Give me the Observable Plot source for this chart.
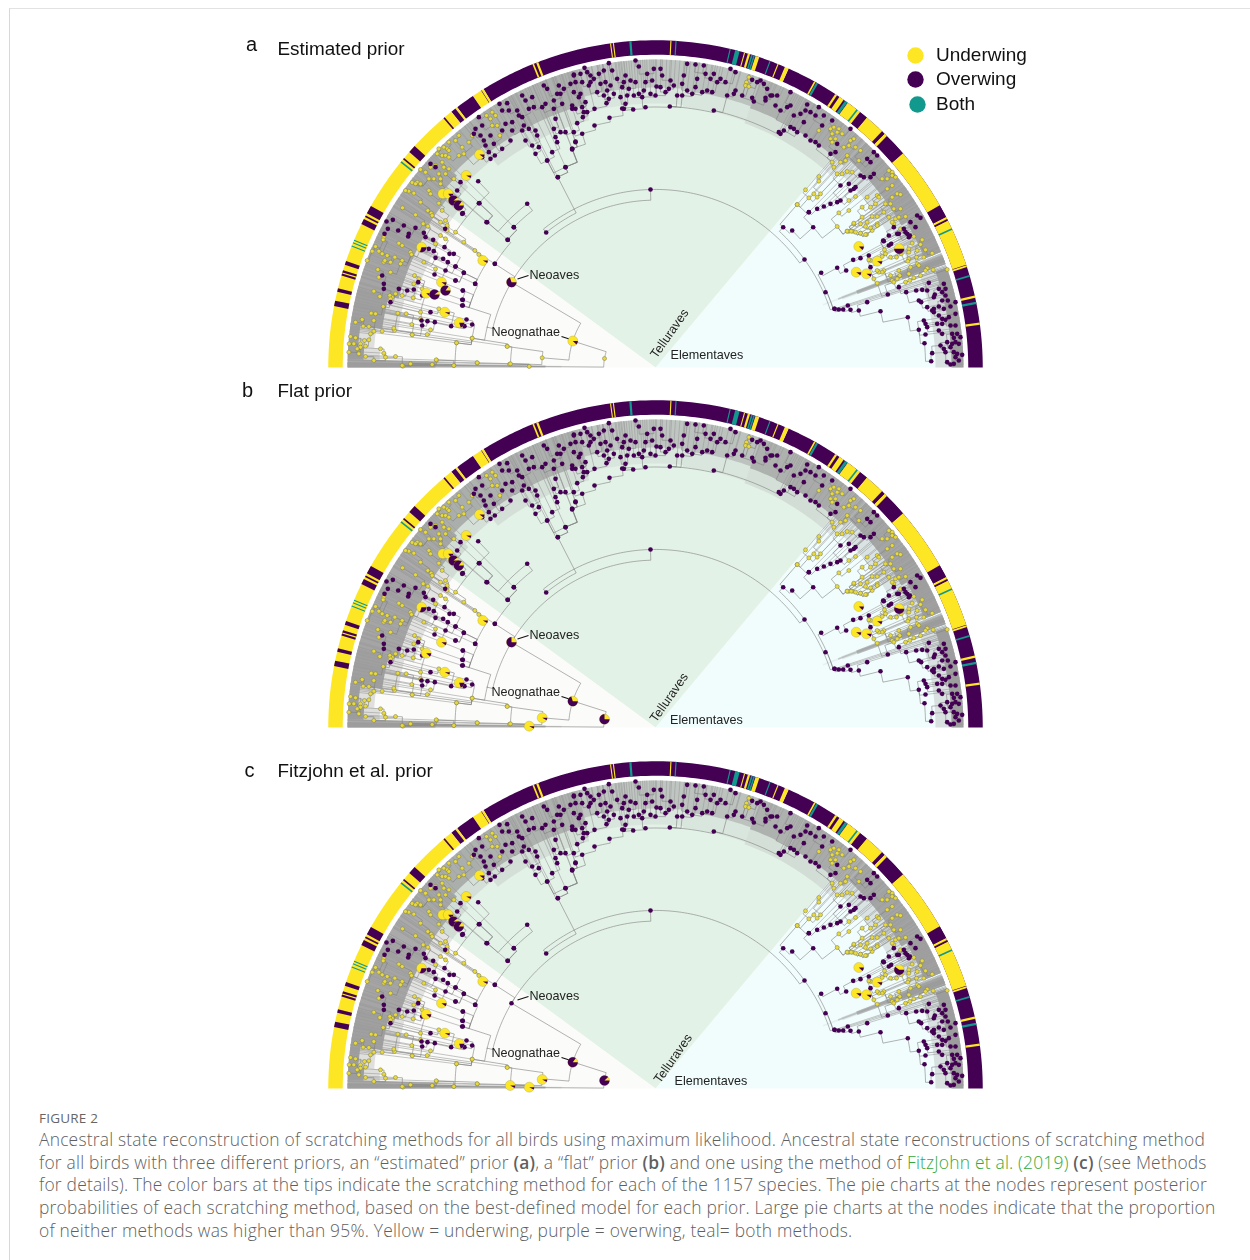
<!DOCTYPE html>
<html><head><meta charset="utf-8">
<script src="https://cdn.jsdelivr.net/npm/d3@7"></script>
<script src="https://cdn.jsdelivr.net/npm/@observablehq/plot@0.6"></script>
<style>
html,body{margin:0;background:#fff}
#frame{position:absolute;left:9px;top:8px;right:0;height:1252px;border-left:1px solid #d8d8d8;border-top:1px solid #e2e2e2}
#chart{position:absolute;left:0;top:0}
#chart svg{display:block;background:transparent;filter:blur(.35px)}
#cap{position:absolute;left:39px;top:1108px;width:1205px;font-family:"Open Sans",sans-serif;color:#5f5f5f;font-weight:300}
#cap .h{font-size:13.5px;line-height:20px;font-weight:400;color:#666;letter-spacing:.2px}
#cap .l{font-size:17.4px;line-height:22.7px;white-space:nowrap;letter-spacing:.215px}
#cap b{font-weight:600}
#cap a{color:#34a83a;text-decoration:none}
</style></head><body>
<div id="frame"></div><div id="chart"></div>
<div id="cap"><div class="h">FIGURE 2</div>
<div class="l">Ancestral state reconstruction of scratching methods for all birds using maximum likelihood. Ancestral state reconstructions of scratching method</div>
<div class="l">for all birds with three different priors, an “estimated” prior <b>(a)</b>, a “flat” prior <b>(b)</b> and one using the method of <a>FitzJohn et al. (2019)</a> <b>(c)</b> (see Methods</div>
<div class="l">for details). The color bars at the tips indicate the scratching method for each of the 1157 species. The pie charts at the nodes represent posterior</div>
<div class="l">probabilities of each scratching method, based on the best-defined model for each prior. Large pie charts at the nodes indicate that the proportion</div>
<div class="l">of neither methods was higher than 95%. Yellow = underwing, purple = overwing, teal= both methods.</div>
</div>
<script>
// ---------- categories and labels ----------
const methods = ["Underwing","Overwing","Both"];
const panelLetters = ["a","b","c"];
const panelTitles = ["Estimated prior","Flat prior","Fitzjohn et al. prior"];
const panelDrop = [0,360,721];                 // vertical offset of each semicircle in tree units

// ---------- colour bar at the tips: [start angle, end angle, method] (U/O/B, degrees from the right) ----------
const tipBar = [
[0,54,"O"],[54,66,"O"],[66,66.7,"U"],[66.7,121.7,"O"],[121.7,122.1,"U"],[122.1,122.3,"O"],[122.2,123.9,"U"],[123.9,127.3,"O"],[127.3,127.7,"U"],[127.7,128.6,"O"],
[128.6,180,"U"],[18.3,26.7,"U"],[26.7,27,"O"],[27,27.4,"U"],[27.4,29.7,"O"],[29.7,40.9,"U"],[40.9,45,"O"],[45,45.6,"U"],[45.6,46.2,"O"],[46.2,49.8,"U"],[49.8,51.3,"O"],[51.3,54,"U"],
[54.9,55.8,"U"],[54.1,54.6,"B"],[56.3,56.7,"U"],[60.2,60.6,"B"],[60.7,61,"U"],[51.8,52.1,"B"],[24.9,25.2,"B"],[17.9,18.2,"U"],[16.1,16.4,"B"],[12.3,12.7,"U"],[11.2,11.6,"B"],[7.5,7.9,"U"],
[67.9,68.1,"U"],[69.4,69.6,"B"],[71.5,72.2,"U"],[72.3,72.6,"B"],[72.7,73,"B"],[73.2,73.6,"U"],[74.1,74.3,"U"],[75.1,75.9,"B"],[76.7,76.9,"B"],
[86.3,86.5,"B"],[87.2,87.4,"U"],[94.2,94.6,"B"],[97.3,97.5,"U"],[97.8,98,"U"],[111,111.4,"U"],[111.8,112.1,"U"],
[130.1,130.4,"O"],[137.4,138.8,"O"],[140.2,140.5,"O"],[140.9,141.2,"B"],[150.4,151.9,"O"],[152.3,152.6,"O"],[153,154,"O"],
[157,157.2,"B"],[157.5,157.7,"B"],[158.1,158.3,"B"],[161,161.7,"O"],[162.7,163.7,"O"],[163.1,163.3,"U"],[166,166.6,"O"],[168.2,169.2,"O"]];

// ---------- dense tip lines: [start angle, end angle, innermost radius, density] ----------
const tipFans = [
[0,19,296,.95],[19.6,21.4,262,.8],[20,21,215,.6],[20.3,20.8,195,.45],[22,30,290,.9],[30,47,284,.85],[47,52,276,.7],[52,61,276,.75],[61,70,276,.65],[70,84,278,.45],[84,105,280,.42],
[105,128,272,.65],[128,136,280,.7],[136,141,276,.8],[141,150,268,.78],[150,165,266,.85],[165,172,276,.92],[172,176,298,.95],[176,178.5,292,.95],[178.5,180,220,.8],[179,180,110,.6]];

// ---------- major clade shading: [start angle, end angle, clade] ----------
const cladeWedges = [[0,50,"Elementaves"],[50,143.7,"Telluraves"],[143.7,180,"Other"]];

// ---------- backbone of the tree: [node, parent, layout x, layout y, state] ----------
const backbone = [
["root",null,604,358,"U"],["neog","root",572.3,340.5,"U"],["gallo","neog",541.7,357.3,"U"],["g1","gallo",506.7,346,"U"],["g2","gallo",510,363.3,"U"],
["g3","g1",471.7,337.7,"U"],["g4","g3",456,342.3,"U"],["g5","g3",411.7,334.3,"U"],["pal","root",528.7,366,"U"],["p1","pal",476.7,362.3,"U"],["p2","pal",453.3,365,"U"],
["p3","p1",435.7,359.3,"U"],["p4","p2",410,363.3,"U"],["p5","p2",401.7,365,"U"],
["neo","neog",511,281.7,"O"],["l1","neo",486.7,326.7,""],["l2","l1",468.5,307,""],["l3","l2",474.7,283.3,"O"],["l4","l3",482.3,260,"U"],["l5","l3",463.3,272.3,"O"],
["l6","l2",462.3,305,"O"],["l7","l2",461.7,299.3,"O"],["l8","l2",462.3,290,"O"],["l9","l5",455,280,"O"],["l10","l5",455,266,"O"],
["q","neo",494.3,263.3,"O"],["q1","q",507,239.3,"O"],["q2","q1",513.3,226.7,"O"],["q3","q2",526.7,203.3,"O"],["s","q3",486.7,221.7,"O"],["s1","s",478.3,202.7,"O"],["s2","s1",477.7,180.7,"O"],
["c","neo",650,189,"O"],["d","c",545.7,232,"O"],["t1","d",557.3,176.7,"O"],["t2","t1",565,166.7,"O"],["t3","t1",546.7,160,"O"],["t4","t2",571.7,148.3,"O"],["t5","t4",581.7,133.3,"O"],
["t6","t5",594,125,"O"],["t7","t6",609,117.3,"O"],["t8","t7",621.7,108,"O"],["t9","t8",632.7,109,"O"],["t10","t9",645,106.7,"O"],["t11","t10",669.3,106,"O"],["t12","t11",713.3,110,"O"],["t13","t12",780,133.3,""],
["e","c",804,259,"O"],["e1","e",782.7,226.7,"O"],["e2","e1",796.7,204,"U"],["e3","e1",791.7,230,"O"],["e4","e3",812.7,226.7,"O"],["e5","e4",808.3,211.7,"O"],["e6","e4",836.7,226,"U"],
["f","e",832.7,308.3,""],["f1","f",820.7,272.3,"O"],["f2","f1",836.7,267.3,"O"],["f3","f2",845.7,270,"O"],["f4","f",825,291.7,"O"],["f5","f",834,308.3,"O"],["f6","f5",842.7,309,"O"],
["f7","f6",850,309.3,"O"],["f8","f7",858.3,310,"O"],["f9","f8",880,310.7,"O"],["f10","f9",907.3,316.7,"O"],["f11","f10",918.3,329.3,"O"],["f12","f11",924,342.7,"O"],["f13","f12",930.7,360.7,"O"]];

// ---------- node states read clade by clade, in thirds of a unit from the clade's corner ----------
const lowerLeftCorner = [340,180];
const lowerLeftU = [[30,468],[45,472],[26,490],[40,490],[60,490],[72,480],[90,460],[85,478],[60,500],[75,497],[25,515],[50,505],[55,520],[75,528],[100,540],[120,505],[130,518],[135,530],[165,528],[187,557],[210,550],[275,552],[288,539],[340,555],[410,547],[507,551],[500,497],[395,473],[348,487],[215,462],[260,462],[270,448],[162,450],[160,443],[125,452],[100,452],[68,437],[45,425],[65,417],[100,420],[85,438],[105,400],[92,398],[128,378],[118,348],[100,332],[155,350],[185,345],[218,352],[172,398],[197,400],[240,395],[295,385],[214,432],[240,415],[148,345],[115,290],[150,275],[130,245],[112,267],[80,240],[95,212],[105,198],[115,212],[125,220],[130,170],[128,178],[175,188],[185,195],[210,215],[213,222],[185,240],[180,250],[250,245],[285,265],[222,285],[235,295],[245,325],[220,310],[163,230],[150,245],[133,240],[140,225],[186,82],[225,103],[240,65],[220,38],[205,32],[195,30],[215,6],[240,12],[265,30],[270,40],[262,90],[272,98],[248,130],[262,137],[275,105],[300,125],[315,120],[320,135],[320,150],[295,68],[305,90],[305,30],[305,45],[300,10],[345,155],[370,185],[403,210],[415,222],[315,175],[300,165],[285,190],[165,340],[150,355]];
const lowerLeftO = [[138,123],[157,118],[142,145],[132,160],[173,150],[190,135],[225,142],[205,160],[203,168],[250,157],[255,170],[278,178],[314,145],[265,205],[280,212],[312,200],[327,220],[340,220],[322,245],[308,235],[285,232],[345,258],[370,277],[345,300],[367,330],[367,358],[365,375],[404,310],[463,250],[438,125],[417,68],[520,140],[502,178],[367,98],[125,285],[130,310],[130,325],[175,325],[200,330],[150,365],[233,305],[245,345],[220,327],[283,425],[243,420],[245,435],[261,422],[270,395],[332,437],[378,417],[395,432],[372,437],[240,208],[315,270],[282,282]];
const upperLeftCorner = [400,60];
const upperLeftU = [[275,155],[285,165],[270,175],[258,165],[290,195],[275,195],[298,225],[205,245],[185,260],[175,285],[190,280],[215,225],[175,225],[165,240],[145,245],[140,265],[130,260],[115,265],[110,280],[125,285],[135,285],[145,270],[145,290],[125,305],[130,320],[105,315],[90,320],[115,340],[120,355],[145,325],[160,355],[135,340],[60,327],[75,335],[50,365],[60,370],[85,355],[100,355],[45,370]];
const upperLeftO = [[235,170],[245,195],[225,205],[220,220],[240,225],[250,240],[270,225],[255,255],[265,275],[245,290],[270,295],[283,285],[305,265],[280,250],[297,130],[320,128],[325,150],[305,150],[350,150],[355,165],[365,170],[315,190],[335,185],[305,210],[335,210],[330,240],[365,210],[370,195],[385,205],[375,240],[405,210],[410,225],[395,255],[415,260],[405,280],[365,105],[375,120],[395,110],[400,140],[385,145],[430,75],[440,85],[475,75],[510,70],[520,45],[490,85],[480,100],[470,100],[425,140],[435,130],[460,120],[460,145],[485,130],[515,135],[465,175],[460,205],[480,215],[495,215],[520,215],[465,230],[525,245],[515,265],[470,245],[455,275],[440,300],[495,320],[472,350],[180,365],[170,390],[90,310],[105,320],[150,410],[165,420],[185,460]];
const topCorner = [570,40];
const topO = [[42,82],[10,102],[30,100],[50,95],[60,105],[15,125],[35,125],[60,125],[85,100],[100,90],[115,68],[125,90],[140,115],[160,125],[165,105],[195,60],[205,78],[250,85],[270,85],[275,105],[230,100],[225,125],[245,120],[195,125],[180,120],[175,145],[155,140],[120,135],[110,150],[105,125],[90,130],[80,155],[100,165],[115,175],[108,188],[150,170],[170,165],[165,190],[160,205],[190,165],[205,160],[215,170],[240,160],[255,165],[270,140],[285,155],[300,120],[295,145],[320,165],[335,165],[350,150],[335,130],[340,105],[350,70],[375,72],[400,75],[405,100],[380,115],[365,160],[395,155],[410,150],[425,155],[440,125],[430,100],[450,115],[465,125],[480,85],[495,95],[470,165],[490,160],[515,165],[545,172],[550,183],[580,130],[590,145],[560,125],[570,120],[585,172],[600,165],[545,118],[495,150],[10,155],[25,170],[45,185],[35,200],[40,215],[5,205],[15,205],[50,215],[72,205],[37,230],[20,248],[15,303],[5,327],[30,160],[55,135],[70,115],[220,150],[258,138],[310,135],[375,140],[420,115],[130,160]];
const topU = [[535,110],[528,125],[525,135],[535,138]];
const upperRightCorner = [760,90];
const upperRightO = [[15,30],[35,15],[50,15],[45,45],[60,60],[90,5],[80,50],[90,45],[140,42],[175,50],[120,70],[135,60],[150,65],[100,75],[130,95],[165,75],[190,75],[215,90],[90,110],[100,115],[110,125],[55,125],[70,120],[60,130],[185,105],[135,135],[150,150],[165,155],[175,165],[230,160],[225,185],[210,190],[270,115],[340,185],[350,195],[320,205],[330,215],[340,250],[330,260],[300,255],[310,260],[280,295],[270,300],[265,280],[285,290],[240,285],[230,335],[240,330],[210,340],[190,348],[170,355],[145,365],[470,375],[480,382],[450,395],[465,410],[400,410],[430,415],[440,430],[415,430],[368,450],[385,465],[445,440]];
const upperRightU = [[210,115],[220,110],[235,115],[215,130],[230,125],[245,130],[210,145],[225,145],[215,155],[175,120],[270,150],[280,145],[265,165],[250,170],[285,170],[300,180],[260,195],[240,215],[255,210],[220,230],[215,215],[230,250],[245,250],[260,243],[275,245],[295,210],[175,258],[175,272],[135,298],[145,322],[160,310],[170,320],[180,310],[110,342],[265,330],[285,318],[320,320],[350,315],[355,320],[380,295],[395,285],[410,310],[420,312],[395,320],[305,350],[265,360],[235,367],[330,350],[345,340],[375,340],[390,340],[400,355],[420,355],[370,365],[350,378],[385,380],[405,385],[415,380],[335,378],[320,395],[305,380],[280,400],[300,400],[260,422],[275,422],[300,428],[318,432],[335,420],[350,400],[395,245],[385,240],[395,255],[405,260],[380,265],[365,265],[435,378]];
const lowerRightCorner = [810,220];
const lowerRightU = [[130,8],[110,32],[122,32],[135,35],[150,38],[165,42],[180,22],[165,18],[200,15],[250,10],[270,25],[245,5],[310,48],[335,58],[330,72],[305,68],[295,85],[295,95],[320,90],[345,88],[365,98],[340,110],[318,110],[295,115],[292,122],[320,130],[325,135],[350,143],[345,150],[368,148],[410,147],[300,140],[295,160],[265,150],[268,165],[260,175],[240,165],[245,180],[250,185],[285,185],[298,180],[310,172],[330,165],[220,150],[215,155],[205,155],[200,150],[190,175],[200,188],[180,120],[175,118],[222,88],[225,100],[215,108],[240,110],[258,110],[272,100]];
const lowerRightO = [[235,45],[220,62],[242,70],[260,40],[285,35],[298,45],[128,118],[150,113],[175,105],[180,140],[232,222],[265,200],[287,215],[317,210],[355,187],[335,208],[350,210],[385,205],[400,190],[405,205],[395,215],[373,222],[405,225],[325,240],[332,245],[370,230],[395,240],[412,240],[435,245],[350,260],[370,265],[385,258],[400,265],[420,258],[365,270],[370,275],[385,285],[415,290],[435,280],[395,295],[405,298],[380,310],[340,300],[345,310],[350,320],[395,310],[420,315],[435,315],[345,342],[385,330],[395,340],[425,340],[440,340],[430,352],[450,350],[410,365],[425,370],[435,365],[445,370],[390,375],[400,385],[420,380],[430,395],[405,395],[440,400],[455,403],[365,398],[410,425],[420,432],[430,430],[445,420],[435,410],[72,265],[85,267],[112,255],[170,245]];

// ---------- posterior pies at nodes: [layout x, layout y, overwing share] ----------
const sharedPies = [[482.3,260,.08],[441,281.7,.1],[425.7,292.7,.12],[444.3,311.7,.08],[458.7,322.3,.2],[421,246.7,.3],
[479,154,.1],[465.7,175,.08],[442.3,193.3,.05],[447.7,193.3,.15],[453,200,.9],[458.3,205,.85],
[858.3,246,.12],[876.7,260.7,.1],[855.7,271.7,.1],[866,273.3,.1]];
const estimatedPies = [[445,290,.85],[434,294,.9],[511,281.7,.7],[572.3,340.5,.12],[898.7,248.3,.5]];
const flatPies = [[511,281.7,.75],[572.3,340.7,.7],[604,358.7,.75],[541.7,357.3,.08],[528.7,365.7,.08],[898.7,248.3,.55]];
const fitzjohnPies = [[572.3,340.7,.85],[604,359,.88],[541.7,358,.08],[528.7,365.7,.08],[509.7,364,.08],[898.7,248.3,.6]];

// ---------- colours and geometry ----------
const C = {U:"#fde725",O:"#440154",B:"#12998e"};
const CLADE = {Elementaves:"#f1fdfd",Telluraves:"#e3f2e7",Other:"#fbfbf9"};
const CX=655, CY=367, R_TIP=308, R_BAR=320;
const pol=(a,r)=>({x:CX+r*Math.cos(a*Math.PI/180), y:CY-r*Math.sin(a*Math.PI/180)});
const toPol=(x,y)=>({a:(Math.atan2(CY-y,x-CX)*180/Math.PI+360)%360, r:Math.hypot(x-CX,y-CY)});
const arcPts=(a0,a1,r)=>{const n=Math.max(1,Math.ceil(Math.abs(a1-a0)));return d3.range(n+1).map(i=>pol(a0+(a1-a0)*i/n,r));};
const sector=(a0,a1,r0,r1)=>[...arcPts(a0,a1,r1),...arcPts(a1,a0,r0)];

const readCrop=(corner,pts,state)=>pts.map(([u,v])=>({x:corner[0]+u/3,y:corner[1]+v/3,state}));
const looseNodes=[
 ...readCrop(lowerLeftCorner,lowerLeftU,"U"),...readCrop(lowerLeftCorner,lowerLeftO,"O"),
 ...readCrop(upperLeftCorner,upperLeftU,"U"),...readCrop(upperLeftCorner,upperLeftO,"O"),
 ...readCrop(topCorner,topO,"O"),...readCrop(topCorner,topU,"U"),
 ...readCrop(upperRightCorner,upperRightO,"O"),...readCrop(upperRightCorner,upperRightU,"U"),
 ...readCrop(lowerRightCorner,lowerRightU,"U"),...readCrop(lowerRightCorner,lowerRightO,"O")
].map(d=>({...d,...toPol(d.x,d.y)}));
const backNodes=new Map(backbone.map(([id,p,x,y,state])=>[id,{id,p,x,y,state,...toPol(x,y)}]));

// branch = arc along the parent's radius, then radial out to the child
const branchPts=(par,ch)=>[...arcPts(par.a,ch.a,par.r),pol(ch.a,ch.r)];
const branches=[];
for(const n of backNodes.values()) if(n.p) branches.push(branchPts(backNodes.get(n.p),n));
const placed=[...backNodes.values()];
for(const n of [...looseNodes].sort((a,b)=>a.r-b.r)){
  let best=null,bd=24;
  for(const m of placed){ if(m.r>=n.r-1) continue; const dd=Math.hypot(m.x-n.x,m.y-n.y); if(dd<bd){bd=dd;best=m;} }
  if(best) branches.push(branchPts(best,n));
  placed.push(n);
}
const allDots=[...looseNodes,...[...backNodes.values()].filter(d=>d.state)];

const marks=[];
const panelPies=[estimatedPies,flatPies,fitzjohnPies];
const labelRows=[
 {p:0,t:"Neoaves",x:529,y:274.5},{p:0,t:"Neognathae",x:491,y:331.5},{p:0,t:"Elementaves",x:670,y:354.5},
 {p:1,t:"Neoaves",x:529,y:274.5},{p:1,t:"Neognathae",x:491,y:331.5},{p:1,t:"Elementaves",x:669.5,y:359.5},
 {p:2,t:"Neoaves",x:529,y:274.5},{p:2,t:"Neognathae",x:491,y:331.5},{p:2,t:"Elementaves",x:674,y:359.5}];
const telluRows=[{p:0,x:669,y:333},{p:1,x:668.5,y:337},{p:2,x:672.5,y:337}];
const leaders=[{x1:517,y1:278.5,x2:528,y2:275},{x1:561,y1:336,x2:568,y2:338.3}];

panelDrop.forEach((drop,pi)=>{
  const S=rows=>rows.map(d=>({...d,y:d.y+drop}));
  // clade wedges
  for(const [a0,a1,name] of cladeWedges)
    marks.push(Plot.line(S(sector(a0,a1,0,R_TIP)),{x:"x",y:"y",fill:CLADE[name],stroke:"none"}));
  // tip fans, with a fainter rim where the lines thin out
  tipFans.forEach(([a0,a1,r,o])=>{
    marks.push(Plot.line(S(sector(a0,a1,Math.max(r-16,0),R_TIP)),{x:"x",y:"y",fill:"#9a9a9a",fillOpacity:o*.3,stroke:"none"}));
    marks.push(Plot.line(S(sector(a0,a1,r,R_TIP)),{x:"x",y:"y",fill:"#9a9a9a",fillOpacity:o,stroke:"none"}));
  });
  // radial lineage of every loose node out to the tips
  marks.push(Plot.link(looseNodes,{x1:d=>d.x,y1:d=>d.y+drop,x2:d=>pol(d.a,R_TIP).x,y2:d=>pol(d.a,R_TIP).y+drop,stroke:"#9c9c9c",strokeWidth:.6}));
  // branches
  const bRows=branches.flatMap((b,i)=>S(b).map(q=>({...q,i})));
  marks.push(Plot.line(bRows,{x:"x",y:"y",z:"i",stroke:"#808080",strokeWidth:.6,curve:"linear"}));
  // tip bar
  tipBar.forEach(([a0,a1,m])=>marks.push(Plot.line(S(arcPts(a0,a1,R_BAR)),{x:"x",y:"y",stroke:C[m],strokeWidth:14.5,strokeLinecap:"butt",strokeLinejoin:"bevel"})));
  // nodes
  marks.push(Plot.dot(S(allDots.filter(d=>d.state==="U")),{x:"x",y:"y",r:2,fill:"#e9da3c",stroke:"#80804e",strokeWidth:.55}));
  marks.push(Plot.dot(S(allDots.filter(d=>d.state==="O")),{x:"x",y:"y",r:2.3,fill:C.O}));
  // pies
  [...sharedPies,...panelPies[pi]].forEach(([x,y,share])=>{
    marks.push(Plot.dot([{x,y:y+drop}],{x:"x",y:"y",r:5,fill:C.U,stroke:"#8a8a55",strokeWidth:.3}));
    const pts=[{x,y:y+drop},...d3.range(0,41).map(i=>{const t=share*2*Math.PI*i/40;return {x:x+5*Math.cos(t),y:y+drop+5*Math.sin(t)};})];
    marks.push(Plot.line(pts,{x:"x",y:"y",fill:C.O,stroke:"none"}));
  });
  // leaders
  marks.push(Plot.link(leaders.map(d=>({...d,y1:d.y1+drop,y2:d.y2+drop})),{x1:"x1",y1:"y1",x2:"x2",y2:"y2",stroke:"#111",strokeWidth:1.1}));
  // clade labels
  marks.push(Plot.text(labelRows.filter(d=>d.p===pi).map(d=>({...d,y:d.y+drop})),{x:"x",y:"y",text:"t",textAnchor:"start",fontSize:12.6,fill:"#222",fontFamily:"Liberation Sans"}));
  marks.push(Plot.text(telluRows.filter(d=>d.p===pi).map(d=>({...d,y:d.y+drop,t:"Telluraves"})),{x:"x",y:"y",text:"t",rotate:-55,fontSize:12.6,fill:"#222",fontFamily:"Liberation Sans"}));
});

// panel headings and legend
const titleY=[48,390,770], letterX=[251,247,249], letterY=[44,390,770];
marks.push(Plot.text(panelLetters.map((t,i)=>({t,x:letterX[i],y:letterY[i]})),{x:"x",y:"y",text:"t",fontSize:20,fill:"#111",fontFamily:"Liberation Sans"}));
marks.push(Plot.text(panelTitles.map((t,i)=>({t,x:277,y:titleY[i]})),{x:"x",y:"y",text:"t",textAnchor:"start",fontSize:18.9,fill:"#111",fontFamily:"Liberation Sans"}));
const legendX=[915,915,917], legendY=[55,79,104];
marks.push(Plot.dot(methods.map((m,i)=>({x:legendX[i],y:legendY[i],c:C[["U","O","B"][i]]})),{x:"x",y:"y",r:8.2,fill:"c"}));
marks.push(Plot.text(methods.map((t,i)=>({t,x:935.5,y:legendY[i]-.5})),{x:"x",y:"y",text:"t",textAnchor:"start",fontSize:19,fill:"#111",fontFamily:"Liberation Sans"}));

document.getElementById("chart").append(Plot.plot({
  width:1250,height:1100,margin:0,
  x:{domain:[0,1250],range:[0,1250],axis:null},
  y:{domain:[0,1100],range:[0,1100],axis:null},
  color:{type:"identity"},
  style:{background:"transparent",overflow:"visible"},
  marks
}));
</script>
</body></html>
